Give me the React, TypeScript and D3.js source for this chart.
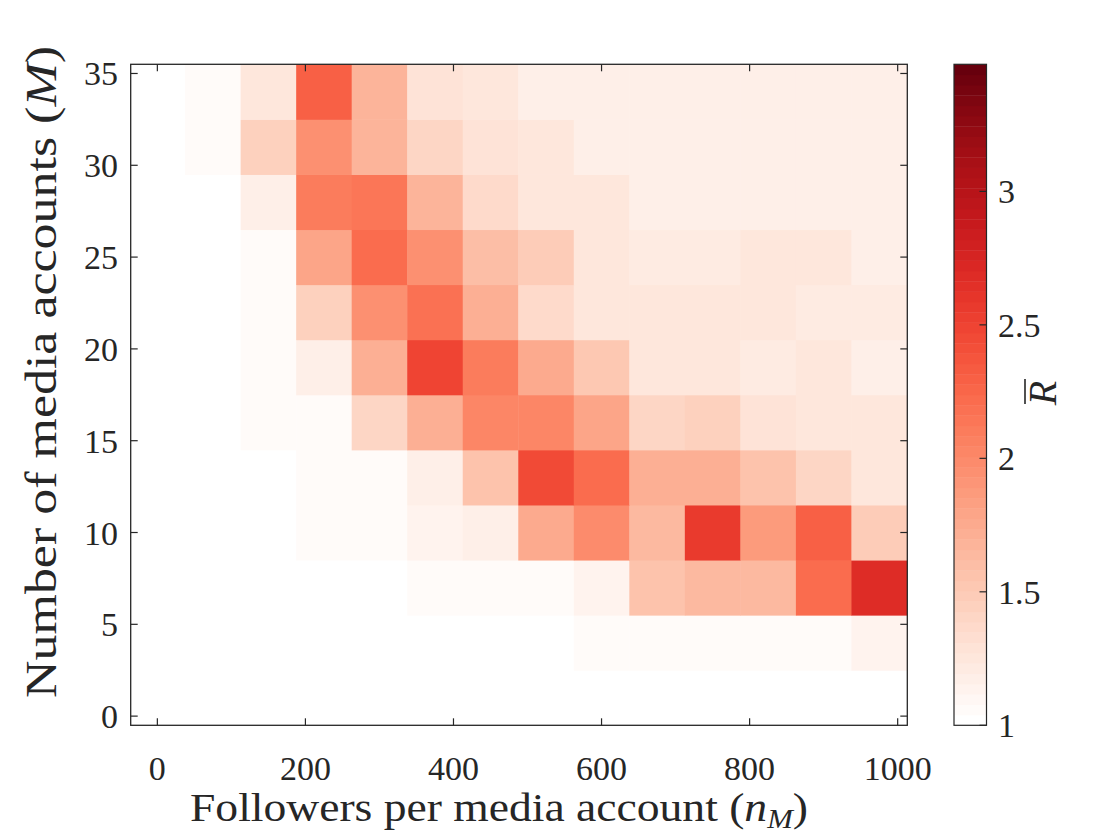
import React from "react";
import * as d3 from "d3";

// Cell centres: followers per media account (columns) and number of media accounts (rows)
const followers = [0, 75, 150, 225, 300, 375, 450, 525, 600, 675, 750, 825, 900, 975];
const accounts = [1, 4, 7, 10, 13, 16, 19, 22, 25, 28, 31, 34];

// Mean R for each row (bottom to top), one value per followers column
const rBar: number[][] = [
  [1, 1, 1, 1, 1, 1, 1, 1, 1, 1, 1, 1, 1, 1],
  [1, 1, 1, 1, 1, 1, 1, 1, 1.045, 1.045, 1.045, 1.06, 1.07, 1.12],
  [1, 1, 1, 1, 1, 1.045, 1.07, 1.065, 1.12, 1.55, 1.63, 1.63, 2.22, 2.68],
  [1, 1, 1, 1.045, 1.045, 1.13, 1.17, 1.75, 1.98, 1.63, 2.55, 1.88, 2.3, 1.5],
  [1, 1, 1, 1.045, 1.07, 1.16, 1.58, 2.45, 2.23, 1.7, 1.7, 1.55, 1.42, 1.27],
  [1, 1, 1.045, 1.07, 1.42, 1.7, 2.02, 2.02, 1.8, 1.4, 1.45, 1.3, 1.24, 1.25],
  [1, 1, 1.05, 1.16, 1.7, 2.5, 2.1, 1.75, 1.52, 1.27, 1.27, 1.22, 1.27, 1.19],
  [1, 1, 1.07, 1.46, 1.95, 2.17, 1.7, 1.37, 1.26, 1.25, 1.25, 1.25, 1.22, 1.22],
  [1, 1, 1.05, 1.8, 2.2, 1.95, 1.6, 1.48, 1.26, 1.23, 1.23, 1.24, 1.24, 1.19],
  [1, 1, 1.16, 2.1, 2.15, 1.67, 1.35, 1.26, 1.24, 1.19, 1.19, 1.17, 1.17, 1.17],
  [1, 1.045, 1.45, 1.95, 1.66, 1.42, 1.3, 1.25, 1.19, 1.19, 1.19, 1.19, 1.19, 1.19],
  [1, 1.045, 1.27, 2.3, 1.66, 1.3, 1.24, 1.19, 1.19, 1.18, 1.18, 1.18, 1.18, 1.18],
];

const xTicks = [0, 200, 400, 600, 800, 1000];
const yTicks = [0, 5, 10, 15, 20, 25, 30, 35];
const cTicks = [1, 1.5, 2, 2.5, 3];
const cLimits = [1, 3.476];

const W = 1120;
const H = 840;
const plot = { left: 130.7, right: 907.3, top: 64.3, bottom: 725.3 };
const bar = { left: 954, right: 986.5, top: 64.3, bottom: 725.3 };
const nLevels = 64;
const halfW = 37.5;
const halfH = 1.5;
const font = "'Liberation Serif', 'DejaVu Serif', serif";
const ink = "#262626";

const ramp = d3.interpolateRgbBasis([
  "#ffffff", "#fee0d2", "#fcbba1", "#fc9272", "#fb6a4a",
  "#ef3b2c", "#cb181d", "#a50f15", "#67000d",
]);
const levelOf = (v: number) => {
  const t = (v - cLimits[0]) / (cLimits[1] - cLimits[0]);
  return Math.max(0, Math.min(nLevels - 1, Math.floor(t * nLevels)));
};
const levelColor = (i: number) => ramp(i / (nLevels - 1));

export default function App() {
  const x = d3.scaleLinear().domain([-36, 1013]).range([plot.left, plot.right]);
  const y = d3.scaleLinear().domain([-0.5, 35.5]).range([plot.bottom, plot.top]);
  const c = d3.scaleLinear().domain(cLimits).range([bar.bottom, bar.top]);
  const tick = 7;
  const tickFont = 34;

  const cells: React.ReactNode[] = [];
  accounts.forEach((m, ri) => {
    followers.forEach((n, ci) => {
      const v = rBar[ri][ci];
      const x0 = x(n - halfW);
      const x1 = x(n + halfW);
      const y0 = y(m + halfH);
      const y1 = y(m - halfH);
      cells.push(
        <rect key={`${ri}-${ci}`} x={x0} y={y0} width={x1 - x0 + 0.5} height={y1 - y0 + 0.5}
          fill={levelColor(levelOf(v))} />
      );
    });
  });

  const levels = d3.range(nLevels);
  const step = (cLimits[1] - cLimits[0]) / nLevels;

  return (
    <svg width={W} height={H} style={{ position: "absolute", left: 0, top: 0, background: "#fff" }}>
      <defs>
        <clipPath id="plotClip">
          <rect x={plot.left} y={plot.top} width={plot.right - plot.left} height={plot.bottom - plot.top} />
        </clipPath>
      </defs>
      <rect x={0} y={0} width={W} height={H} fill="#fff" />
      <g clipPath="url(#plotClip)">{cells}</g>

      {/* axes box */}
      <rect x={plot.left} y={plot.top} width={plot.right - plot.left} height={plot.bottom - plot.top}
        fill="none" stroke={ink} strokeWidth={1.3} />
      {xTicks.map((t) => (
        <g key={`xt${t}`}>
          <line x1={x(t)} x2={x(t)} y1={plot.bottom} y2={plot.bottom - tick} stroke={ink} strokeWidth={1.2} />
          <line x1={x(t)} x2={x(t)} y1={plot.top} y2={plot.top + tick} stroke={ink} strokeWidth={1.2} />
          <text x={x(t)} y={780} textAnchor="middle" fontFamily={font} fontSize={tickFont} fill={ink}>{t}</text>
        </g>
      ))}
      {yTicks.map((t) => (
        <g key={`yt${t}`}>
          <line x1={plot.left} x2={plot.left + tick} y1={y(t)} y2={y(t)} stroke={ink} strokeWidth={1.2} />
          <line x1={plot.right} x2={plot.right - tick} y1={y(t)} y2={y(t)} stroke={ink} strokeWidth={1.2} />
          <text x={118} y={y(t) + 12} textAnchor="end" fontFamily={font} fontSize={tickFont} fill={ink}>{t}</text>
        </g>
      ))}
      <text x={499} y={821} textAnchor="middle" fontFamily={font} fontSize={40} fill={ink}
        textLength={618} lengthAdjust="spacingAndGlyphs">
        Followers per media account (<tspan fontStyle="italic">n</tspan>
        <tspan fontStyle="italic" fontSize={27} dy={7}>M</tspan>
        <tspan dy={-7}>)</tspan>
      </text>
      <text transform={`translate(56, 372) rotate(-90)`} textAnchor="middle"
        fontFamily={font} fontSize={44} fill={ink} textLength={652} lengthAdjust="spacingAndGlyphs">
        Number of media accounts (<tspan fontStyle="italic">M</tspan>)
      </text>

      {/* colour bar */}
      {levels.map((i) => {
        const top = c(cLimits[0] + (i + 1) * step);
        const bot = c(cLimits[0] + i * step);
        return <rect key={`cb${i}`} x={bar.left} y={top} width={bar.right - bar.left} height={bot - top + 0.4}
          fill={levelColor(i)} />;
      })}
      <rect x={bar.left} y={bar.top} width={bar.right - bar.left} height={bar.bottom - bar.top}
        fill="none" stroke={ink} strokeWidth={1.2} />
      {cTicks.map((t) => (
        <g key={`ct${t}`}>
          <line x1={bar.right} x2={bar.right - tick} y1={c(t)} y2={c(t)} stroke={ink} strokeWidth={1.2} />
          <text x={998} y={c(t) + 12} fontFamily={font} fontSize={tickFont} fill={ink}>{t}</text>
        </g>
      ))}
      <g transform={`translate(1056, 393) rotate(-90)`}>
        <text x={0} y={0} textAnchor="middle" fontFamily={font} fontSize={40} fontStyle="italic" fill={ink}>R</text>
        <line x1={-11} x2={14} y1={-31} y2={-31} stroke={ink} strokeWidth={1.6} />
      </g>
    </svg>
  );
}
